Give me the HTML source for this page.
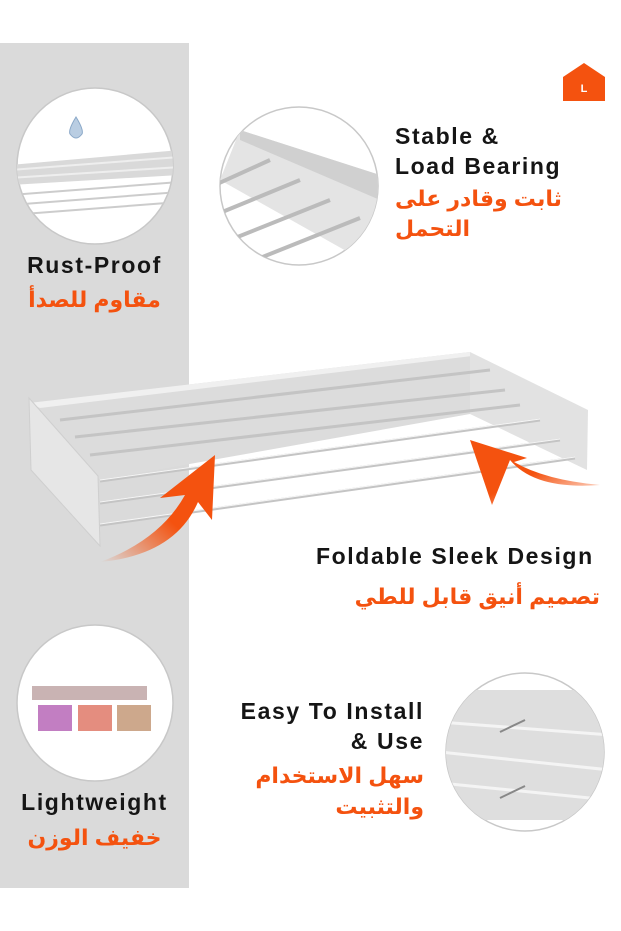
<!DOCTYPE html>
<html><head><meta charset="utf-8"><style>
html,body{margin:0;padding:0;width:621px;height:931px;background:#fff;overflow:hidden;position:relative;font-family:"Liberation Sans","Noto Sans CJK SC",sans-serif}
.t{position:absolute;font-weight:bold;color:#151515;white-space:nowrap;font-size:23px;letter-spacing:1.6px}
.a{position:absolute;font-weight:bold;color:#f4520f;white-space:nowrap;font-family:"Liberation Sans","DejaVu Sans",sans-serif;font-size:22px}
</style></head><body>
<div style="position:absolute;left:0;top:43px;width:189px;height:845px;background:#dadada"></div>
<svg width="621" height="931" style="position:absolute;left:0;top:0">
<defs>
<linearGradient id="g1" x1="0" y1="1" x2="1" y2="0"><stop offset="0" stop-color="#f4520f" stop-opacity="0"/><stop offset="0.5" stop-color="#f4520f"/></linearGradient>
<linearGradient id="g2" x1="1" y1="1" x2="0" y2="0"><stop offset="0" stop-color="#f4520f" stop-opacity="0"/><stop offset="0.5" stop-color="#f4520f"/></linearGradient>
<clipPath id="c1"><circle cx="95" cy="166" r="78"/></clipPath>
<clipPath id="c2"><circle cx="299" cy="186" r="79"/></clipPath>
<clipPath id="c4"><circle cx="525" cy="752" r="79"/></clipPath>
</defs>
<polygon points="563,77 584,63 605,77 605,101 563,101" fill="#f4520f"/>
<text x="584" y="92" font-family="Liberation Sans" font-weight="bold" font-size="11" fill="#fff" text-anchor="middle">L</text>
<circle cx="95" cy="166" r="78" fill="#fff" stroke="#c8c8c8" stroke-width="1.5"/>
<g clip-path="url(#c1)">
<polygon points="10,165 180,150 180,175 10,185" fill="#d9d9d9"/>
<line x1="10" y1="170" x2="180" y2="157" stroke="#eee" stroke-width="2"/>
<line x1="10" y1="178" x2="180" y2="167" stroke="#eee" stroke-width="2"/>
<line x1="10" y1="195" x2="180" y2="182" stroke="#ccc" stroke-width="2"/>
<line x1="10" y1="205" x2="180" y2="192" stroke="#ccc" stroke-width="2"/>
<line x1="10" y1="215" x2="180" y2="202" stroke="#ccc" stroke-width="2"/>
</g>
<path d="M76,117 Q68,130 70,134 Q76,142 82,134 Q84,130 76,117Z" fill="#b9cde2" stroke="#8aa8c8"/>
<circle cx="299" cy="186" r="79" fill="#fff" stroke="#c8c8c8" stroke-width="1.5"/>
<g clip-path="url(#c2)">
<polygon points="240,130 380,175 380,270 220,180" fill="#e4e4e4"/>
<polygon points="240,130 380,175 380,200 240,140" fill="#d0d0d0"/>
<line x1="215" y1="185" x2="270" y2="160" stroke="#bbb" stroke-width="4"/>
<line x1="215" y1="215" x2="300" y2="180" stroke="#bbb" stroke-width="4"/>
<line x1="230" y1="240" x2="330" y2="200" stroke="#bbb" stroke-width="4"/>
<line x1="255" y1="260" x2="360" y2="218" stroke="#bbb" stroke-width="4"/>
</g>
<circle cx="95" cy="703" r="78" fill="#fff" stroke="#c8c8c8" stroke-width="1.5"/>
<rect x="32" y="686" width="115" height="14" fill="#c9b3b3"/>
<rect x="38" y="705" width="34" height="26" fill="#c27ec2"/>
<rect x="78" y="705" width="34" height="26" fill="#e48d7f"/>
<rect x="117" y="705" width="34" height="26" fill="#cda88c"/>
<circle cx="525" cy="752" r="79" fill="#fff" stroke="#c8c8c8" stroke-width="1.5"/>
<g clip-path="url(#c4)">
<rect x="440" y="690" width="170" height="130" fill="#dedede"/>
<line x1="440" y1="752" x2="610" y2="770" stroke="#f4f4f4" stroke-width="3"/>
<line x1="440" y1="783" x2="610" y2="800" stroke="#f4f4f4" stroke-width="3"/>
<line x1="440" y1="722" x2="610" y2="735" stroke="#f4f4f4" stroke-width="3"/>
<line x1="500" y1="732" x2="525" y2="720" stroke="#888" stroke-width="2"/>
<line x1="500" y1="798" x2="525" y2="786" stroke="#888" stroke-width="2"/>
</g>
<polygon points="29,403 470,352 470,414 100,480" fill="#dcdcdc"/>
<polygon points="29,403 470,352 472,356 40,408" fill="#f0f0f0"/>
<polygon points="470,352 588,410 587,470 470,414" fill="#e2e2e2"/>
<polygon points="29,398 98,476 100,546 31,470" fill="#e6e6e6" stroke="#cfcfcf"/>
<g stroke="#c4c4c4" stroke-width="3">
<line x1="60" y1="420" x2="490" y2="370"/>
<line x1="75" y1="437" x2="505" y2="390"/>
<line x1="90" y1="455" x2="520" y2="405"/>
<line x1="100" y1="481" x2="540" y2="420"/>
<line x1="100" y1="503" x2="560" y2="440"/>
<line x1="100" y1="525" x2="575" y2="458"/>
</g>
<g stroke="#f6f6f6" stroke-width="1">
<line x1="100" y1="480" x2="540" y2="419"/>
<line x1="100" y1="502" x2="560" y2="439"/>
<line x1="100" y1="524" x2="575" y2="457"/>
</g>
<path d="M100,562 Q160,540 185,495 L160,498 L215,455 L212,520 L198,502 Q175,555 100,562Z" fill="url(#g1)"/>
<path d="M600,485 Q535,490 510,460 L492,505 L470,440 L527,458 L514,462 Q545,480 600,485Z" fill="url(#g2)"/>
</svg>
<div class="t" style="left:0;width:189px;text-align:center;top:252px">Rust-Proof</div>
<div class="a" style="left:0;width:189px;text-align:center;top:287px" dir="rtl">مقاوم للصدأ</div>
<div class="t" style="left:395px;top:121px;line-height:30px">Stable &amp;<br>Load Bearing</div>
<div class="a" style="left:395px;top:186px" dir="rtl">ثابت وقادر على</div>
<div class="a" style="left:395px;top:216px" dir="rtl">التحمل</div>
<div class="t" style="left:316px;top:543px">Foldable Sleek Design</div>
<div class="a" style="right:21px;top:584px" dir="rtl">تصميم أنيق قابل للطي</div>
<div class="t" style="right:197px;top:696px;line-height:30px;text-align:right">Easy To Install<br>&amp; Use</div>
<div class="a" style="right:197px;top:760px;line-height:31px;text-align:right" dir="rtl">سهل الاستخدام<br>والتثبيت</div>
<div class="t" style="left:0;width:189px;text-align:center;top:789px">Lightweight</div>
<div class="a" style="left:0;width:189px;text-align:center;top:825px" dir="rtl">خفيف الوزن</div>
</body></html>
